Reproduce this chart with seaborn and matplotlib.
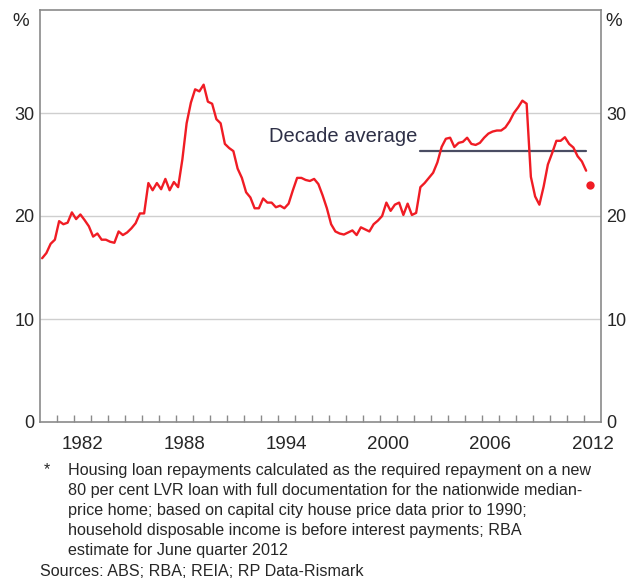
import numpy as np
import matplotlib
matplotlib.use('Agg')
import matplotlib.pyplot as plt
import pandas as pd
import seaborn as sns

# quarterly repayment share, 1980 Q1 to 2012 Q1 (per cent of disposable income)
repayments = [
    15.9, 16.4, 17.3, 17.7,    # 1980
    19.5, 19.2, 19.35, 20.35,  # 1981
    19.7, 20.15, 19.6, 19.0,   # 1982
    18.0, 18.3, 17.7, 17.7,    # 1983
    17.5, 17.4, 18.5, 18.15,   # 1984
    18.4, 18.8, 19.3, 20.25,   # 1985
    20.25, 23.2, 22.5, 23.2,   # 1986
    22.6, 23.6, 22.5, 23.3,    # 1987
    22.8, 25.5, 29.0, 31.0,    # 1988
    32.3, 32.1, 32.75, 31.1,   # 1989
    30.9, 29.4, 29.0, 27.0,    # 1990
    26.6, 26.3, 24.6, 23.7,    # 1991
    22.3, 21.8, 20.75, 20.75,  # 1992
    21.7, 21.3, 21.3, 20.85,   # 1993
    21.0, 20.75, 21.2, 22.5,   # 1994
    23.7, 23.7, 23.5, 23.4,    # 1995
    23.6, 23.1, 22.0, 20.75,   # 1996
    19.2, 18.5, 18.3, 18.2,    # 1997
    18.4, 18.6, 18.15, 18.9,   # 1998
    18.7, 18.5, 19.2, 19.55,   # 1999
    20.0, 21.3, 20.5, 21.1,    # 2000
    21.3, 20.1, 21.2, 20.1,    # 2001
    20.3, 22.8, 23.2, 23.7,    # 2002
    24.2, 25.2, 26.7, 27.5,    # 2003
    27.6, 26.7, 27.1, 27.2,    # 2004
    27.6, 27.0, 26.9, 27.1,    # 2005
    27.6, 28.0, 28.2, 28.3,    # 2006
    28.3, 28.6, 29.2, 30.0,    # 2007
    30.55, 31.2, 30.9, 23.8,   # 2008
    21.9, 21.1, 22.85, 25.0,   # 2009
    26.1, 27.3, 27.3, 27.65,   # 2010
    27.0, 26.65, 25.8, 25.3,   # 2011
    24.4,                      # 2012
]
first_quarter = '1980Q1'
last_quarter = '2012Q1'

# RBA estimate for June quarter 2012
estimate_quarter = '2012Q2'
estimate_value = 23.0

# decade average
avg_value = 26.3
avg_from = '2002Q2'
avg_to = '2012Q1'

year_labels = [1982, 1988, 1994, 2000, 2006, 2012]
y_ticks = [0, 10, 20, 30]

footnote = [
    'Housing loan repayments calculated as the required repayment on a new',
    '80 per cent LVR loan with full documentation for the nationwide median-',
    'price home; based on capital city house price data prior to 1990;',
    'household disposable income is before interest payments; RBA',
    'estimate for June quarter 2012',
]
sources = 'Sources: ABS; RBA; REIA; RP Data-Rismark'


def decimal_year(q):
    # quarters sit an eighth of a year in, as on the RBA chart
    p = pd.Period(q, freq='Q')
    return p.year + (p.quarter - 1) / 4 + 0.125


quarters = pd.period_range(first_quarter, last_quarter, freq='Q')
data = pd.DataFrame({
    'year': [decimal_year(str(q)) for q in quarters],
    'value': repayments,
})

sns.set_style('white')
plt.rcParams['font.family'] = ['Liberation Sans', 'DejaVu Sans']

red = '#f01c24'
grey = '#8a8a8a'
navy = '#4a4d63'

fig = plt.figure(figsize=(6.28, 5.81), dpi=100)
ax = fig.add_axes([40 / 628, 1 - 422 / 581, 561 / 628, 412 / 581])

# grid lines
for v in y_ticks[1:]:
    ax.axhline(v, color='#cfcfcf', lw=1.0, zorder=0)

sns.lineplot(data=data, x='year', y='value', color=red, lw=1.7, ax=ax)
ax.plot([decimal_year(estimate_quarter)], [estimate_value], 'o', color=red, ms=6, mec='none')

# decade average line and label
ax.plot([decimal_year(avg_from), decimal_year(avg_to)], [avg_value, avg_value],
        color=navy, lw=1.6, zorder=1)
ax.text(decimal_year(avg_from) - 0.15, 27.7, 'Decade average', ha='right', va='center',
        fontsize=14.5, color='#2e3047')

ax.set_xlim(1980, 2013)
ax.set_ylim(0, 40)

# yearly tick marks, labels centred within the year
ax.set_xticks(np.arange(1981, 2013))
ax.set_xticklabels([])
ax.tick_params(axis='x', which='major', direction='in', length=5, width=1, color=grey,
               bottom=True)
ax.set_xticks([y + 0.5 for y in year_labels], minor=True)
ax.set_xticklabels([str(y) for y in year_labels], minor=True)
ax.tick_params(axis='x', which='minor', length=0, pad=10, labelsize=13.5)

ax.set_yticks(y_ticks)
ax.set_yticklabels([str(v) for v in y_ticks])
ax.tick_params(axis='y', length=0, pad=4, labelsize=13, left=True, right=True,
               labelleft=True, labelright=True)
ax.set_xlabel('')
ax.set_ylabel('')

for side in ['left', 'right', 'top', 'bottom']:
    ax.spines[side].set_visible(True)
    ax.spines[side].set_color(grey)
    ax.spines[side].set_linewidth(1.2)

# unit labels
ax.annotate('%', xy=(0, 38.9), xycoords=('axes fraction', 'data'), xytext=(-8, 0),
            textcoords='offset points', ha='right', va='center', fontsize=13.5)
ax.annotate('%', xy=(1, 38.9), xycoords=('axes fraction', 'data'), xytext=(3, 0),
            textcoords='offset points', ha='left', va='center', fontsize=13.5)

# footnote
fig.text(44 / 628, 1 - 470 / 581, '*', ha='left', va='center', fontsize=11.6)
for i, line in enumerate(footnote):
    fig.text(68 / 628, 1 - (470 + 20.2 * i) / 581, line, ha='left', va='center',
             fontsize=11.6)
fig.text(40 / 628, 1 - 571 / 581, sources, ha='left', va='center', fontsize=11.6)

plt.savefig('out.png', dpi=100)
plt.close()
